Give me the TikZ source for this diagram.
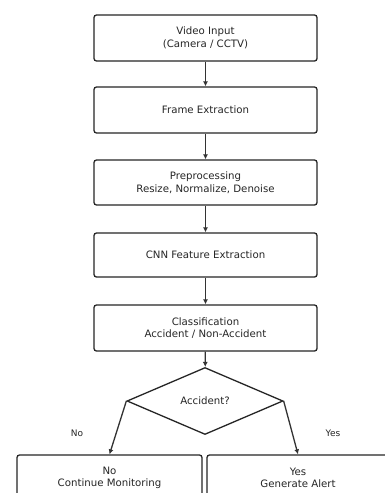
\documentclass[tikz,border=0pt]{standalone}
\usepackage{fontspec}
\setmainfont{DejaVu Sans}
\usetikzlibrary{shapes.geometric,arrows.meta}
\begin{document}
\begin{tikzpicture}[x=1pt,y=-1pt,
  every node/.style={font=\fontsize{10.2}{12.5}\selectfont, text=black!85},
  stepbox/.style={draw=black!85, line width=1.3pt, rounded corners=2.5pt, align=center, inner sep=0pt},
  decbox/.style={draw=black!85, line width=1.3pt, diamond, aspect=2.33, minimum width=156pt, minimum height=67pt, inner sep=0pt},
  flow/.style={draw=black!80, line width=1.3pt, -{Latex[length=5pt,width=5pt]}},
  lbl/.style={font=\fontsize{9}{11}\selectfont}]
\clip (0,0) rectangle (385,493);
\fill[white] (0,0) rectangle (385,493);
\node[stepbox, minimum width=223pt, minimum height=46pt] (b1) at (205.5,38) {Video Input\\(Camera / CCTV)};
\node[stepbox, minimum width=223pt, minimum height=46pt] (b2) at (205.5,110) {Frame Extraction};
\node[stepbox, minimum width=223pt, minimum height=45pt] (b3) at (205.5,182.5) {Preprocessing\\Resize, Normalize, Denoise};
\node[stepbox, minimum width=223pt, minimum height=44pt] (b4) at (205.5,255) {CNN Feature Extraction};
\node[stepbox, minimum width=223pt, minimum height=46pt] (b5) at (205.5,328) {Classification\\Accident / Non-Accident};
\node[decbox] (d) at (205,401) {Accident?};
\node[stepbox, minimum width=185pt, minimum height=46pt] (no) at (109.5,478) {No\\Continue Monitoring};
\node[stepbox, minimum width=182pt, minimum height=46pt] (yes) at (298,478) {Yes\\Generate Alert};
\draw[flow] (b1) -- (b2);
\draw[flow] (b2) -- (b3);
\draw[flow] (b3) -- (b4);
\draw[flow] (b4) -- (b5);
\draw[flow] (b5) -- (d);
\draw[flow] (d.west) -- (no.north);
\draw[flow] (d.east) -- (yes.north);
\node[lbl] (lno) at (77,433) {No};
\node[lbl] (lyes) at (333,433) {Yes};
\end{tikzpicture}
\end{document}
